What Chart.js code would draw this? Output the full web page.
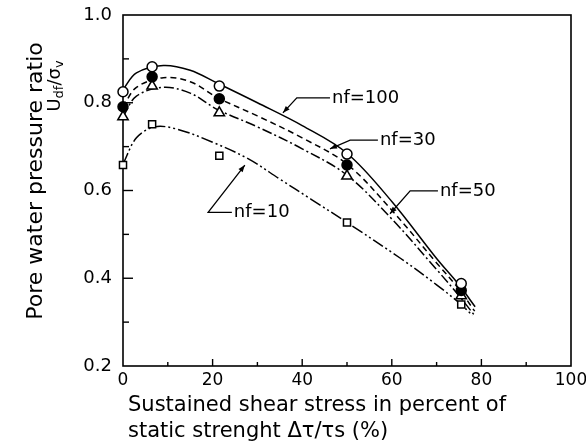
<!DOCTYPE html>
<html><head><meta charset="utf-8">
<script src="https://cdn.jsdelivr.net/npm/chart.js@4/dist/chart.umd.min.js"></script>
<style>html,body{margin:0;padding:0;background:#fff}</style>
</head><body>
<canvas id="c" width="586" height="445" style="display:block;width:586px;height:445px"></canvas>
<script>
// Measured points (x = sustained shear stress %, y = Udf/σv)
const xMeasured = [0, 6.5, 21.5, 50, 75.5];
const nf100 = [0.825, 0.882, 0.838, 0.683, 0.388];
const nf30  = [0.791, 0.859, 0.809, 0.658, 0.372];
const nf50  = [0.768, 0.838, 0.777, 0.633, 0.360];
const nf10  = [0.658, 0.751, 0.679, 0.527, 0.340];

// Fitted curves
const fitX100 = [0, 3, 9, 15, 21, 30, 40, 50, 60, 70, 75, 78.6];
const fitY100 = [0.83, 0.868, 0.885, 0.874, 0.845, 0.8, 0.748, 0.685, 0.575, 0.445, 0.385, 0.335];
const fitX30  = [0, 3, 9, 15, 21, 30, 40, 50, 60, 70, 75, 78.5];
const fitY30  = [0.79, 0.835, 0.857, 0.848, 0.812, 0.77, 0.72, 0.66, 0.555, 0.435, 0.375, 0.325];
const fitX50  = [0, 3, 9, 15, 21, 30, 40, 50, 60, 70, 75, 78.5];
const fitY50  = [0.768, 0.815, 0.835, 0.822, 0.785, 0.745, 0.695, 0.635, 0.535, 0.42, 0.36, 0.315];
const fitX10  = [0, 3, 7, 12, 20, 28, 35, 42, 50, 62, 70, 75.5, 78];
const fitY10  = [0.66, 0.72, 0.745, 0.74, 0.71, 0.672, 0.626, 0.58, 0.527, 0.445, 0.385, 0.34, 0.315];

// Axis tick labels
const xTickLabels = ['0', '20', '40', '60', '80', '100'];
const yTickLabels = ['0.2', '0.4', '0.6', '0.8', '1.0'];

// Curve labels with leader lines (tip, elbow, end, in data units)
const curveLabels = ['nf=100', 'nf=30', 'nf=50', 'nf=10'];
const leaderTipX   = [35.7, 46.2, 59.6, 27.2];
const leaderTipY   = [0.777, 0.695, 0.547, 0.658];
const leaderElbowX = [38.8, 50.7, 64.1, 19.0];
const leaderElbowY = [0.811, 0.715, 0.599, 0.550];
const leaderEndX   = [46.2, 56.9, 70.3, 24.3];

const FONT = '"DejaVu Sans", sans-serif';
const toPts = (xs, ys) => xs.map((x, i) => ({x, y: ys[i]}));

function curve(xs, ys, dash) {
  return {type: 'line', data: toPts(xs, ys), borderColor: '#000', borderWidth: 1.5,
    borderDash: dash, pointRadius: 0, tension: 0.35, fill: false, clip: false, order: 2};
}
function marks(ys, style, fillCol) {
  return {type: 'scatter', data: toPts(xMeasured, ys), showLine: false, pointStyle: style,
    pointRadius: style === 'rect' ? 5 : (style === 'triangle' ? 6 : 5), pointBorderWidth: 1.5,
    pointBorderColor: '#000', pointBackgroundColor: fillCol, clip: false, order: 1};
}

const framePlugin = {
  id: 'frame',
  beforeDatasetsDraw(chart) {
    const {ctx, chartArea: a, scales: {x, y}} = chart;
    ctx.save();
    ctx.strokeStyle = '#000';
    ctx.lineWidth = 1.6;
    ctx.strokeRect(a.left, a.top, a.right - a.left, a.bottom - a.top);
    ctx.lineWidth = 1.4;
    x.ticks.forEach(t => {
      if (t.value <= 0 || t.value >= 100) return;
      const px = x.getPixelForValue(t.value);
      const major = Math.round(t.value) % 20 === 0;
      ctx.beginPath(); ctx.moveTo(px, a.bottom); ctx.lineTo(px, a.bottom - (major ? 7 : 4)); ctx.stroke();
    });
    y.ticks.forEach(t => {
      const v = Math.round(t.value * 10);
      if (v <= 2 || v >= 10) return;
      const py = y.getPixelForValue(t.value);
      const major = v % 2 === 0;
      ctx.beginPath(); ctx.moveTo(a.left, py); ctx.lineTo(a.left + (major ? 10 : 6), py); ctx.stroke();
    });
    ctx.restore();
  },
  afterDraw(chart) {
    const {ctx, scales: {x, y}} = chart;
    ctx.save();
    ctx.strokeStyle = '#000'; ctx.fillStyle = '#000'; ctx.lineWidth = 1.3;
    curveLabels.forEach((lab, i) => {
      const tx = x.getPixelForValue(leaderTipX[i]), ty = y.getPixelForValue(leaderTipY[i]);
      const ex = x.getPixelForValue(leaderElbowX[i]), ey = y.getPixelForValue(leaderElbowY[i]);
      const nx = x.getPixelForValue(leaderEndX[i]);
      ctx.beginPath(); ctx.moveTo(nx, ey); ctx.lineTo(ex, ey); ctx.lineTo(tx, ty); ctx.stroke();
      const ang = Math.atan2(ty - ey, tx - ex);
      const L = 7, W = 2.6;
      ctx.beginPath();
      ctx.moveTo(tx, ty);
      ctx.lineTo(tx - L * Math.cos(ang) + W * Math.sin(ang), ty - L * Math.sin(ang) - W * Math.cos(ang));
      ctx.lineTo(tx - L * Math.cos(ang) - W * Math.sin(ang), ty - L * Math.sin(ang) + W * Math.cos(ang));
      ctx.closePath(); ctx.fill();
      ctx.font = '18px ' + FONT;
      ctx.textAlign = 'left'; ctx.textBaseline = 'middle';
      ctx.fillText(lab, nx + 2, ey);
    });
    // y axis title (two lines)
    ctx.save();
    ctx.translate(36, 181);
    ctx.rotate(-Math.PI / 2);
    ctx.font = '22px ' + FONT;
    ctx.textAlign = 'center'; ctx.textBaseline = 'middle';
    ctx.fillText('Pore water pressure ratio', 0, 0);
    ctx.restore();
    ctx.save();
    ctx.translate(54, 86);
    ctx.rotate(-Math.PI / 2);
    ctx.textBaseline = 'alphabetic'; ctx.textAlign = 'left';
    const big = '18px ' + FONT, small = '13px ' + FONT;
    const parts = [['U', big, 0], ['df', small, 3], ['/', big, 0], ['σ', big, 0], ['v', small, 3]];
    let w = 0;
    parts.forEach(p => { ctx.font = p[1]; w += ctx.measureText(p[0]).width; });
    let cx = -w / 2;
    parts.forEach(p => { ctx.font = p[1]; ctx.fillText(p[0], cx, 6 + p[2]); cx += ctx.measureText(p[0]).width; });
    ctx.restore();
    // x axis title (two lines, left aligned)
    const a = chart.chartArea;
    ctx.font = '21px ' + FONT;
    ctx.textAlign = 'left'; ctx.textBaseline = 'alphabetic';
    ctx.fillText('Sustained shear stress in percent of', a.left + 5, 411);
    ctx.fillText('static strenght Δτ/τs (%)', a.left + 5, 437);
    ctx.restore();
  }
};

new Chart(document.getElementById('c'), {
  data: {
    datasets: [
      curve(fitX100, fitY100, []),
      curve(fitX30, fitY30, [6, 4]),
      curve(fitX50, fitY50, [10, 3, 2, 3]),
      curve(fitX10, fitY10, [12, 3, 2, 3, 2, 3]),
      marks(nf100, 'circle', '#fff'),
      marks(nf30, 'circle', '#000'),
      marks(nf50, 'triangle', '#fff'),
      marks(nf10, 'rect', '#fff')
    ]
  },
  options: {
    responsive: false, animation: false, devicePixelRatio: 1,
    layout: {padding: {top: 15, right: 15, left: 0, bottom: 0}},
    plugins: {legend: {display: false}, tooltip: {enabled: false}},
    scales: {
      x: {type: 'linear', min: 0, max: 100,
        grid: {display: false, drawTicks: false}, border: {display: false},
        ticks: {stepSize: 10, padding: 4, color: '#000', font: {family: FONT, size: 17},
          autoSkip: false, maxRotation: 0,
          callback: v => (Math.round(v) % 20 === 0 ? xTickLabels[Math.round(v) / 20] : '')},
        afterFit: s => { s.height = 79; s.paddingLeft = 0; s.paddingRight = 0; }
      },
      y: {type: 'linear', min: 0.2, max: 1.0,
        grid: {display: false, drawTicks: false}, border: {display: false},
        ticks: {stepSize: 0.1, padding: 11, color: '#000', font: {family: FONT, size: 18}, autoSkip: false,
          callback: v => { const k = Math.round(v * 10); return k % 2 === 0 ? yTickLabels[(k - 2) / 2] : ''; }},
        afterFit: s => { s.width = 123; s.paddingTop = 0; s.paddingBottom = 0; }
      }
    }
  },
  plugins: [framePlugin]
});
</script>
</body></html>
